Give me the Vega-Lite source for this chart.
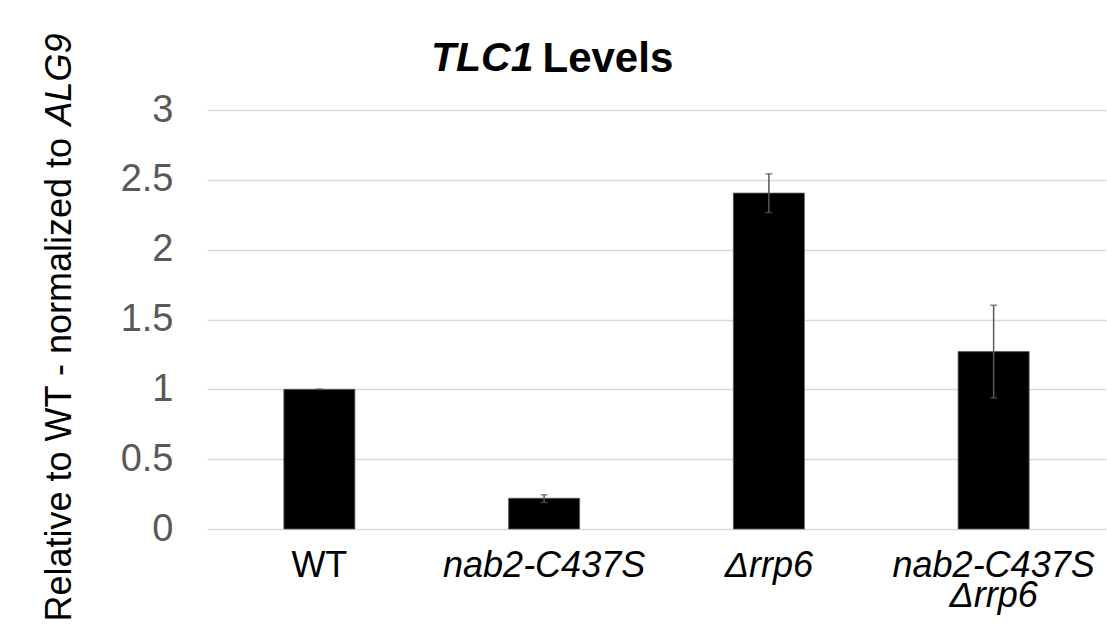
{
  "$schema": "https://vega.github.io/schema/vega-lite/v6.json",
  "autosize": "none",
  "width": 899,
  "height": 419,
  "padding": {"left": 207, "top": 110, "right": 1, "bottom": 114},
  "background": "white",
  "title": {
    "text": "TLC1",
    "anchor": "start",
    "frame": "group",
    "dx": 224,
    "offset": -47,
    "font": "Liberation Sans",
    "fontSize": 41,
    "fontWeight": "bold",
    "fontStyle": "italic",
    "color": "black"
  },
  "data": {
    "values": [
      {"strain": "WT", "level": 1.0, "lo": 1.0, "hi": 1.0},
      {"strain": "nab2-C437S", "level": 0.22, "lo": 0.19, "hi": 0.245},
      {"strain": "Δrrp6", "level": 2.405, "lo": 2.266, "hi": 2.543},
      {"strain": "nab2-C437S\nΔrrp6", "level": 1.27, "lo": 0.938, "hi": 1.602}
    ]
  },
  "layer": [
    {
      "mark": {"type": "bar", "color": "black", "stroke": "#595959", "strokeWidth": 0.8},
      "encoding": {
        "x": {
          "field": "strain",
          "type": "nominal",
          "sort": null,
          "scale": {
            "domain": ["WT", "nab2-C437S", "Δrrp6", "nab2-C437S\nΔrrp6"],
            "paddingInner": 0.684,
            "paddingOuter": 0.342
          },
          "axis": {
            "title": null,
            "domain": false,
            "ticks": false,
            "grid": false,
            "labelAngle": 0,
            "labelLimit": 0,
            "labelFont": "Liberation Sans",
            "labelFontSize": 36,
            "labelColor": "black",
            "labelPadding": 19,
            "labelLineHeight": 30,
            "labelFontStyle": {"condition": {"test": "datum.value === 'WT'", "value": "normal"}, "value": "italic"},
            "labelExpr": "split(datum.label, '\\n')"
          }
        },
        "y": {
          "field": "level",
          "type": "quantitative",
          "title": "Relative to WT - normalized to",
          "scale": {"domain": [0, 3]},
          "axis": {
            "orient": "left",
            "values": [0, 0.5, 1, 1.5, 2, 2.5, 3],
            "format": "~g",
            "titleFont": "Liberation Sans",
            "titleFontSize": 36,
            "titleFontWeight": "normal",
            "titleColor": "black",
            "titleAlign": "left",
            "titleBaseline": "alphabetic",
            "titleX": -137,
            "titleY": 511,
            "labelFont": "Liberation Sans",
            "labelFontSize": 38,
            "labelColor": "#595959",
            "labelPadding": 34,
            "domain": false,
            "ticks": false,
            "grid": true,
            "gridColor": "#d9d9d9",
            "gridWidth": 1.5
          }
        }
      }
    },
    {
      "mark": {"type": "errorbar", "color": "#595959", "thickness": 1.5, "ticks": {"size": 7, "color": "#595959", "thickness": 1.5}},
      "encoding": {
        "x": {
          "field": "strain",
          "type": "nominal",
          "sort": null,
          "axis": {
            "orient": "top",
            "title": "Levels",
            "labels": false,
            "ticks": false,
            "domain": false,
            "grid": false,
            "titleFont": "Liberation Sans",
            "titleFontSize": 42,
            "titleFontWeight": "bold",
            "titleFontStyle": "normal",
            "titleColor": "black",
            "titleAlign": "left",
            "titleBaseline": "alphabetic",
            "titleX": 335,
            "titleY": -39
          }
        },
        "y": {
          "field": "lo",
          "type": "quantitative",
          "axis": {
            "orient": "left",
            "title": "ALG9",
            "labels": false,
            "ticks": false,
            "domain": false,
            "grid": false,
            "titleFont": "Liberation Sans",
            "titleFontSize": 36,
            "titleFontWeight": "normal",
            "titleFontStyle": "italic",
            "titleColor": "black",
            "titleAlign": "right",
            "titleBaseline": "alphabetic",
            "titleX": -137,
            "titleY": -77
          }
        },
        "y2": {"field": "hi"}
      }
    }
  ],
  "resolve": {"axis": {"x": "independent", "y": "independent"}},
  "config": {"view": {"stroke": null}}
}
